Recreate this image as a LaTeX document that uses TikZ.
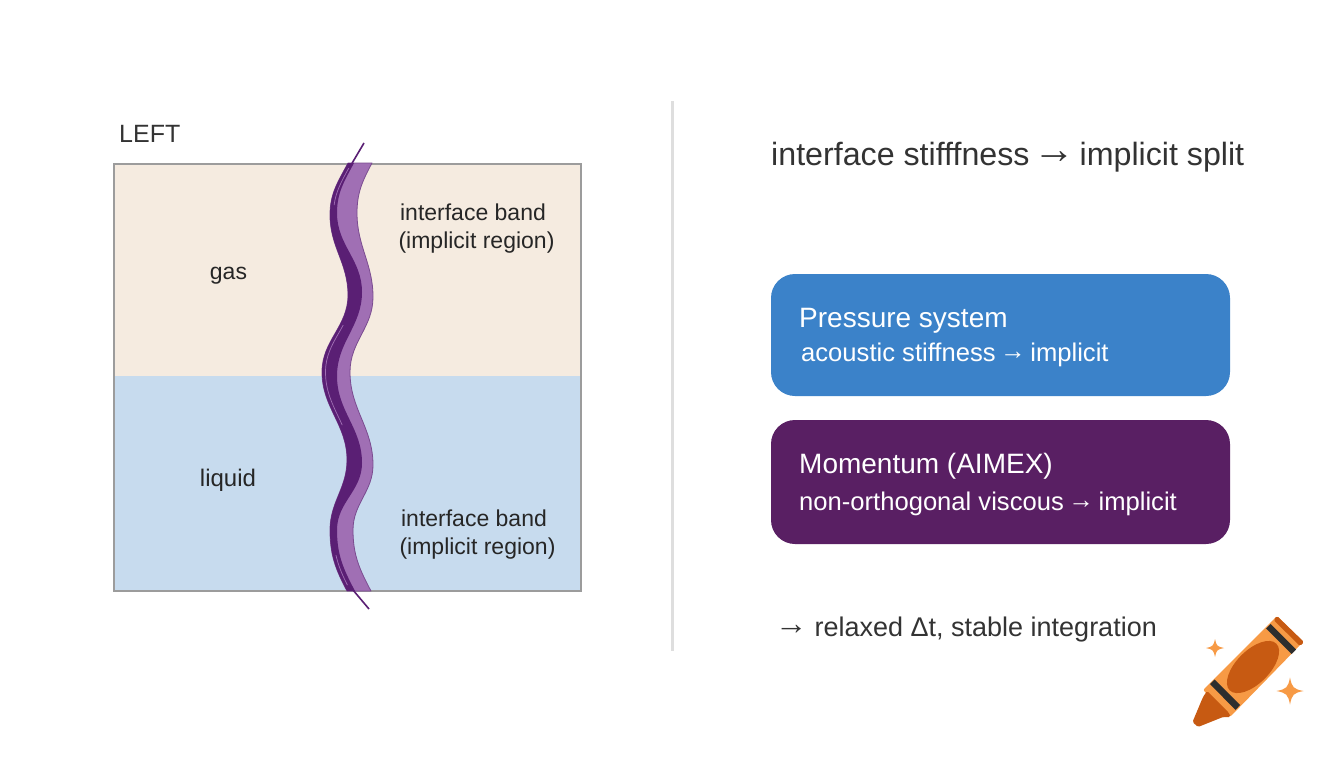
\documentclass[tikz,border=0pt]{standalone}
\usepackage{graphicx}
\usepackage{fontspec}
\setmainfont{Liberation Sans}
% text arrow: #1 scale, #2 side kern
\newcommand{\arr}[2]{\hspace{#2}\raisebox{.06em}{\scalebox{#1}{→}}\hspace{#2}}
\definecolor{gasfill}{HTML}{F5EBE0}
\definecolor{liquidfill}{HTML}{C7DBEE}
\definecolor{framegray}{HTML}{9C9C9C}
\definecolor{rulegray}{HTML}{DEDEDE}
\definecolor{inktext}{HTML}{333333}
\definecolor{bandlight}{HTML}{A06FB4}
\definecolor{banddark}{HTML}{5A1F74}
\definecolor{pressureblue}{HTML}{3B82C9}
\definecolor{momentumpurple}{HTML}{591F63}
\definecolor{crayonmid}{HTML}{F79A45}
\definecolor{crayondark}{HTML}{C75A12}
\definecolor{crayonband}{HTML}{2E2E2E}
% band edges, each a chain of vertical-tangent S-curves
\newcommand{\bandleft}{(348,163) to[out=-118,in=90] (330,215) to[out=-90,in=90] (348,295)
  to[out=-90,in=90] (322,372) to[out=-90,in=90] (347,460) to[out=-90,in=90] (330,530) to[out=-90,in=118] (347,591)}
\newcommand{\bandright}{(371,591) to[out=118,in=-90] (353,530) to[out=90,in=-90] (373,465)
  to[out=90,in=-90] (350,372) to[out=90,in=-90] (373,297) to[out=90,in=-90] (357,213) to[out=90,in=-118] (372,163)}
\newcommand{\bandinner}{(355,591) to[out=118,in=-90] (337,530) to[out=90,in=-90] (362,463)
  to[out=90,in=-90] (337,376) to[out=90,in=-90] (362,292) to[out=90,in=-90] (337,213) to[out=90,in=-118] (354,163)}
\tikzset{
  lbl/.style={inner sep=0pt,text=#1},
  lbl/.default=inktext,
  regionlbl/.style={lbl=black!85,align=center,font=\fontsize{23}{28}\selectfont},
  headline/.style={lbl,anchor=base west,font=\fontsize{32.2}{36}\selectfont},
  boxtitle/.style={lbl=white,anchor=base west,font=\fontsize{28}{30}\selectfont},
  boxsub/.style={lbl=white,anchor=base west,font=\fontsize{25.6}{28}\selectfont},
  solverbox/.style={rounded corners=24pt,draw=none},
  sparkle/.pic={\fill[crayonmid] (-1,0) .. controls (-.25,-.15) and (-.15,-.25) .. (0,-1)
      .. controls (.15,-.25) and (.25,-.15) .. (1,0)
      .. controls (.25,.15) and (.15,.25) .. (0,1)
      .. controls (-.15,.25) and (-.25,.15) .. (-1,0) -- cycle;}
}
\begin{document}
\begin{tikzpicture}[x=1pt,y=-1pt]
\useasboundingbox (0,0) rectangle (1344,768);
\fill[white] (0,0) rectangle (1344,768);

% domain: gas above, liquid below
\fill[gasfill] (114,164) rectangle (581,376);
\fill[liquidfill] (114,376) rectangle (581,591);
\draw[framegray,line width=2.5pt] (114,164) rectangle (581,591);

% curved interface band
\fill[bandlight,draw=banddark!80,line width=.8pt,line join=round]
  \bandleft -- \bandright -- cycle;
\fill[banddark] \bandleft -- \bandinner -- cycle;
\begin{scope}
  \clip (300,168) rectangle (400,205) (300,325) rectangle (400,425) (300,555) rectangle (400,585);
  \draw[bandlight,line width=.7pt,xshift=3.5pt] \bandleft;
\end{scope}
\coordinate (tailTopA) at (351,165);
\coordinate (tailTopB) at (364,143);
\coordinate (tailBotA) at (353,590);
\coordinate (tailBotB) at (369,609);
\draw[banddark,line width=1.6pt] (tailTopA) -- (tailTopB);
\draw[banddark,line width=1.6pt] (tailBotA) -- (tailBotB);

% domain labels
\node[lbl,anchor=base west,font=\fontsize{25}{27}\selectfont] (leftTag) at (119,142) {LEFT};
\node[regionlbl] (gasLbl) at (228.5,276) {gas};
\node[regionlbl,font=\fontsize{24}{28}\selectfont] (liquidLbl) at (228,480) {liquid};
\node[regionlbl] (bandTop) at (476.5,228.5) {interface band\hspace{7pt}\mbox{}\\(implicit region)};
\node[regionlbl] (bandBot) at (477.5,534.5) {interface band\hspace{7pt}\mbox{}\\(implicit region)};

% divider
\draw[rulegray,line width=2.5pt] (672.5,101) -- (672.5,651);

% right column
\node[headline] (title) at (771,165) {interface stifffness \arr{1.3}{-.15em} implicit split};
\fill[pressureblue,solverbox] (771,274) rectangle (1230,396);
\node[boxtitle] (pTitle) at (799,327) {Pressure system};
\node[boxsub] (pSub) at (801,361) {acoustic stiffness \arr{1}{-.1em} implicit};
\fill[momentumpurple,solverbox] (771,420) rectangle (1230,544);
\node[boxtitle] (mTitle) at (799,473) {Momentum (AIMEX)};
\node[boxsub] (mSub) at (799,510) {non-orthogonal viscous \arr{1}{-.1em} implicit};
\node[lbl,anchor=base west,font=\fontsize{27}{30}\selectfont] (result) at (775,636) {\arr{1.2}{0pt}\hspace{7pt}relaxed Δt, stable integration};

% crayon
\begin{scope}[line join=round]
  \fill[crayonmid,rounded corners=2pt] (1277,616) -- (1303,642) -- (1230,717) -- (1203,690) -- cycle;
  \fill[crayondark,rounded corners=1.5pt] (1277,616) -- (1304,642) -- (1300,646) -- (1273.5,620) -- cycle;
  \fill[crayonband] (1270.5,624) -- (1296,649.5) -- (1291.5,654) -- (1266,628.5) -- cycle;
  \fill[crayonband] (1214.5,679.5) -- (1240,705) -- (1235.5,710) -- (1210,684) -- cycle;
  \fill[crayondark,rounded corners=1.5pt] (1207,691) -- (1229,713) -- (1230.5,717) -- (1223,717) -- (1198,727) -- (1192.5,722) -- (1203,697) -- cycle;
  \fill[crayondark,rotate around={45:(1253,667)}] (1253,667) ellipse (33pt and 16.5pt);
\end{scope}
\pic[scale=9] at (1215,648) {sparkle};
\pic[scale=13.5] at (1290,691) {sparkle};
\end{tikzpicture}
\end{document}
